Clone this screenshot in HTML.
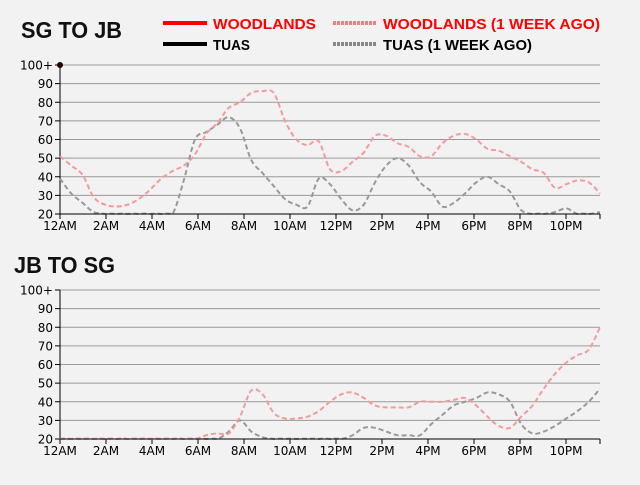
<!DOCTYPE html>
<html><head><meta charset="utf-8"><style>
body{margin:0;background:#f2f2f2;width:640px;height:480px;overflow:hidden}
svg text{font-family:"DejaVu Sans",sans-serif}
</style></head><body>
<svg id="s" width="640" height="480" xmlns="http://www.w3.org/2000/svg">
<rect width="640" height="480" fill="#f2f2f2"/>
<text x="21" y="38" font-weight="bold" font-size="23" fill="#111" textLength="101" lengthAdjust="spacingAndGlyphs" style="font-family:'Liberation Sans',sans-serif">SG TO JB</text>
<text x="14" y="273" font-weight="bold" font-size="23" fill="#111" textLength="101" lengthAdjust="spacingAndGlyphs" style="font-family:'Liberation Sans',sans-serif">JB TO SG</text>
<line x1="163" y1="23" x2="207" y2="23" stroke="#f00" stroke-width="4"/>
<text x="213" y="29" font-size="15" font-weight="bold" fill="#f00" textLength="103" lengthAdjust="spacingAndGlyphs" style="font-family:'Liberation Sans',sans-serif">WOODLANDS</text>
<line x1="333" y1="23" x2="377" y2="23" stroke="#f08080" stroke-width="4" stroke-dasharray="3,1"/>
<text x="383" y="29" font-size="15" font-weight="bold" fill="#f00" textLength="217" lengthAdjust="spacingAndGlyphs" style="font-family:'Liberation Sans',sans-serif">WOODLANDS (1 WEEK AGO)</text>
<line x1="163" y1="44" x2="207" y2="44" stroke="#000" stroke-width="4"/>
<text x="213" y="50" font-size="15" font-weight="bold" fill="#000" textLength="37" lengthAdjust="spacingAndGlyphs" style="font-family:'Liberation Sans',sans-serif">TUAS</text>
<line x1="333" y1="44" x2="377" y2="44" stroke="#888" stroke-width="4" stroke-dasharray="3,1"/>
<text x="383" y="50" font-size="15" font-weight="bold" fill="#000" textLength="149" lengthAdjust="spacingAndGlyphs" style="font-family:'Liberation Sans',sans-serif">TUAS (1 WEEK AGO)</text>
</svg>
<script>
var s=document.getElementById('s'),NS='http://www.w3.org/2000/svg';
function el(t,a,txt){var e=document.createElementNS(NS,t);for(var k in a)e.setAttribute(k,a[k]);if(txt)e.textContent=txt;s.appendChild(e);return e;}
function path(pts,bot){var c=function(y){return Math.min(y,bot)};var d='M'+pts[0][0]+','+pts[0][1];for(var i=0;i<pts.length-1;i++){var p0=pts[i-1]||pts[i],p1=pts[i],p2=pts[i+1],p3=pts[i+2]||p2;
d+=' C'+(p1[0]+(p2[0]-p0[0])/6)+','+c(p1[1]+(p2[1]-p0[1])/6)+' '+(p2[0]-(p3[0]-p1[0])/6)+','+c(p2[1]-(p3[1]-p1[1])/6)+' '+p2[0]+','+p2[1];}return d;}
function chart(top,bot,w,t,dot){
 var yv=function(v){return bot-(v-20)/80*(bot-top)};
 for(var v=20;v<=100;v+=10){var y=yv(v);if(v>20)el('line',{x1:60,x2:600,y1:y,y2:y,stroke:'#999','stroke-width':1});
  el('line',{x1:55,x2:60,y1:y,y2:y,stroke:'#000'});el('text',{x:53,y:y+4.5,'text-anchor':'end','font-size':12,fill:'#000'},v==100?'100+':String(v));}
 el('line',{x1:60,x2:60,y1:top,y2:bot,stroke:'#000'});
 var lb=['12AM','2AM','4AM','6AM','8AM','10AM','12PM','2PM','4PM','6PM','8PM','10PM'];
 for(var i=0;i<12;i++){var x=60+i*46;el('line',{x1:x,x2:x,y1:bot,y2:bot+5,stroke:'#000'});el('text',{x:x,y:bot+16,'text-anchor':'middle','font-size':12},lb[i]);}
 el('line',{x1:600,x2:600,y1:bot,y2:bot+5,stroke:'#000'});
 function ser(d,c){var p=d.map(function(v,i){return[60+i*540/(d.length-1),yv(v)]});el('path',{d:path(p,bot-0.5),fill:'none',stroke:c,'stroke-width':2,'stroke-dasharray':'5,3'});}
 ser(t,'#999');ser(w,'#f59a9a');
 el('line',{x1:60,x2:600,y1:bot,y2:bot,stroke:'#000'});
 if(dot)el('circle',{cx:60,cy:top,r:3,fill:'#200'});
}
chart(65,214,
[51,46,41,29,25,24,25,28,33,39,43,46,52,63,69,77,80,85,86,85,70,60,57,59,44,43,48,53,62,62,58,56,51,51,58,62,63,60,55,54,51,48,44,42,34,36,38,37,31],
[39,31,26,21,20,20,20,20,20,20,20,38,60,64,68,72,66,49,42,35,28,25,24,39,36,28,22,25,37,46,50,46,37,32,24,26,31,37,40,36,32,22,20,20,21,23,20,20,21],true);
chart(290,439,
[20,20,20,20,20,20,20,20,20,20,20,20,20,22,23,23,32,46,44,34,31,31,32,35,40,44,45,42,38,37,37,37,40,40,40,41,42,38,32,27,26,32,38,47,55,61,65,68,80],
[20,20,20,20,20,20,20,20,20,20,20,20,20,20,20,24,30,24,21,20,20,20,20,20,20,20,22,26,26,24,22,22,22,28,33,38,40,42,45,44,40,28,23,24,27,31,35,40,47],false);
</script>
</body></html>
